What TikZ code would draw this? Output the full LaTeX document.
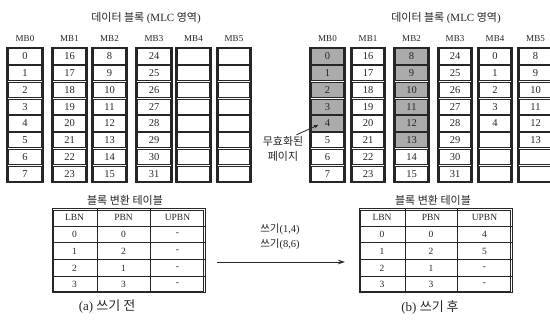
\documentclass[tikz,border=0pt]{standalone}
\usepackage{fontspec}
\setmainfont{Liberation Serif}
\newfontfamily\kr{Noto Sans CJK KR}
\usetikzlibrary{arrows.meta,calc}
\definecolor{ink}{HTML}{262626}
\definecolor{cellgray}{HTML}{ABABAB}
\tikzset{
 blkouter/.style={draw=ink,line width=1.4pt},
 blkinner/.style={draw=ink,line width=0.6pt},
 celltxt/.style={inner sep=0pt,text=ink,font=\fontsize{10.5}{10.5}\selectfont},
 lbl/.style={text=ink,font=\fontsize{9}{9}\selectfont,inner sep=0pt},
 ttl/.style={text=ink,font=\fontsize{11}{11}\kr,inner sep=0pt},
 small/.style={text=ink,font=\fontsize{10.5}{11}\selectfont,inner sep=0pt},
 captxt/.style={text=ink,font=\fontsize{13}{13}\selectfont,inner sep=0pt},
 tbltxt/.style={text=ink,font=\fontsize{9.5}{9.5}\selectfont,inner sep=0pt},
 arr/.style={draw=ink,line width=0.8pt,-{Stealth[length=7pt,width=4.5pt]}},
 arrsm/.style={draw=ink,line width=0.8pt,-{Stealth[length=5pt,width=3.5pt]}}
}
% #1 name, #2 left, #3 right, #4 values, #5 shaded rows, #6 label
\newcommand\mbcol[6]{%
  \node[lbl] (#1-lab) at ({(#2+#3)/2},39) {#6};
  \foreach \v [count=\i from 0] in {#4} {
    \pgfmathsetmacro\ytop{48+\i*16.75}
    \pgfmathsetmacro\ybot{48+(\i+1)*16.75}
    \ifnum\i<#5 \fill[cellgray] (#2+1.4,\ytop+0.7) rectangle (#3-1.4,\ybot-0.7);\fi
    \draw[blkinner] (#2+1.4,\ytop+0.7) rectangle (#3-1.4,\ybot-0.7);
    \node[celltxt] (#1-\i) at ({(#2+#3)/2},{(\ytop+\ybot)/2}) {\v};
  }
  \draw[blkouter] (#2,48) rectangle (#3,182);
}
% #1 name, #2..#5 column x, #6 rows
\newcommand\xtable[6]{%
  \draw[blkinner] (#2+1.5,210.5) rectangle (#5-1.5,291.5);
  \foreach \yy in {226,242.75,259.5,276.25} \draw[blkinner] (#2,\yy) -- (#5,\yy);
  \draw[blkinner] (#3,209) -- (#3,293);
  \draw[blkinner] (#4,209) -- (#4,293);
  \draw[blkouter,line width=1pt] (#2,209) rectangle (#5,293);
  \node[tbltxt] (#1-h1) at ({(#2+#3)/2},217.5) {LBN};
  \node[tbltxt] (#1-h2) at ({(#3+#4)/2},217.5) {PBN};
  \node[tbltxt] (#1-h3) at ({(#4+#5)/2},217.5) {UPBN};
  \foreach \p/\q/\r [count=\k from 0] in {#6} {
    \pgfmathsetmacro\yc{226+(\k+0.5)*16.75}
    \node[tbltxt] (#1-\k-a) at ({(#2+#3)/2},\yc) {\p};
    \node[tbltxt] (#1-\k-b) at ({(#3+#4)/2},\yc) {\q};
    \node[tbltxt] (#1-\k-c) at ({(#4+#5)/2},\yc) {\r};
  }
}
\begin{document}
\begin{tikzpicture}[x=1pt,y=-1pt]
\useasboundingbox (0,0) rectangle (550,323);
\fill[white] (0,0) rectangle (550,323);
% titles
\node[ttl] (t1) at (146,18) {데이터 블록 {\rmfamily(MLC} 영역{\rmfamily)}};
\node[ttl] (t2) at (446,18) {데이터 블록 {\rmfamily(MLC} 영역{\rmfamily)}};
% left blocks
\mbcol{a0}{7}{43}{0,...,7}{0}{MB0}
\mbcol{a1}{52}{87}{16,...,23}{0}{MB1}
\mbcol{a2}{92}{127}{8,...,15}{0}{MB2}
\mbcol{a3}{136}{172}{24,...,31}{0}{MB3}
\mbcol{a4}{176}{211}{{},{},{},{},{},{},{},{}}{0}{MB4}
\mbcol{a5}{217}{251}{{},{},{},{},{},{},{},{}}{0}{MB5}
% right blocks
\mbcol{b0}{310}{345}{0,...,7}{5}{MB0}
\mbcol{b1}{351}{385}{16,...,23}{0}{MB1}
\mbcol{b2}{394}{429}{8,...,15}{6}{MB2}
\mbcol{b3}{438}{472}{24,...,31}{0}{MB3}
\mbcol{b4}{478}{512}{0,1,2,3,4,{},{},{}}{0}{MB4}
\mbcol{b5}{518}{553}{8,9,10,11,12,13,{},{}}{0}{MB5}
% invalid page label
\node[ttl,font=\fontsize{11}{15}\kr,align=center] (inv) at (283,149) {무효화된\\페이지};
\draw[arrsm] ($(inv.north east)+(-7,-1.5)$) -- ($(b0-4)+(-9,1.5)$);
% tables
\node[ttl] (tt1) at (125,200) {블록 변환 테이블};
\node[ttl] (tt2) at (433,200) {블록 변환 테이블};
\xtable{ta}{52}{97}{150}{205}{0/0/-,1/2/-,2/1/-,3/3/-}
\xtable{tb}{359}{405}{457}{512}{0/0/4,1/2/5,2/1/-,3/3/-}
% write operation
\node[small] (w1) at (280,229) {{\kr 쓰기}(1,4)};
\node[small] (w2) at (280,244) {{\kr 쓰기}(8,6)};
\coordinate (as) at (217,262);
\coordinate (ae) at (345,262);
\draw[arr] (as) -- (ae);
% captions
\node[captxt] (ca) at (107,307) {(a) {\kr 쓰기 전}};
\node[captxt] (cb) at (430,307) {(b) {\kr 쓰기 후}};
\end{tikzpicture}
\end{document}
